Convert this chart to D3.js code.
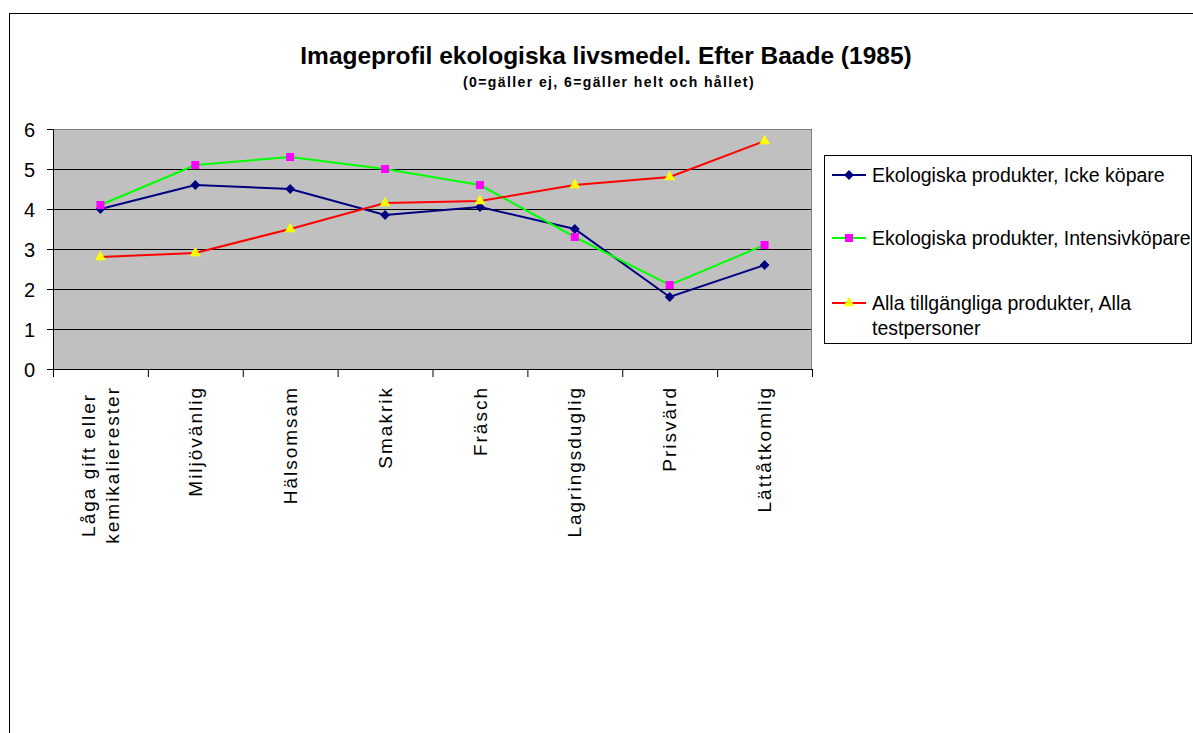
<!DOCTYPE html>
<html>
<head>
<meta charset="utf-8">
<script src="https://cdn.jsdelivr.net/npm/d3@7"></script>
<style>
  body { margin: 0; background: #fff; }
  text { font-family: "Liberation Sans", Arial, sans-serif; fill: #000; }
</style>
</head>
<body>
<script>
// chart data
var categories = ["Låga gift eller\nkemikalierester", "Miljövänlig", "Hälsomsam", "Smakrik",
  "Fräsch", "Lagringsduglig", "Prisvärd", "Lättåtkomlig"];
var ickeKopare = [4.0, 4.6, 4.5, 3.85, 4.05, 3.5, 1.8, 2.6];
var intensivKopare = [4.1, 5.1, 5.3, 5.0, 4.6, 3.3, 2.1, 3.1];
var allaTestpersoner = [2.8, 2.9, 3.5, 4.15, 4.2, 4.6, 4.8, 5.7];
var seriesNames = ["Ekologiska produkter, Icke köpare",
  "Ekologiska produkter, Intensivköpare",
  "Alla tillgängliga produkter, Alla testpersoner"];
var yTicks = [0, 1, 2, 3, 4, 5, 6];

var svgWidth = 1193;
var svgHeight = 733;

// plot area
var plot = { left: 53, top: 129, right: 812, bottom: 369 };
var plotWidth = plot.right - plot.left;
var plotHeight = plot.bottom - plot.top;

var svg = d3.select("body").append("svg")
  .attr("width", svgWidth)
  .attr("height", svgHeight);

// outer chart frame (runs past the right and bottom edge)
svg.append("rect")
  .attr("x", 9.5).attr("y", 13.5)
  .attr("width", 1300).attr("height", 900)
  .attr("fill", "#fff").attr("stroke", "#000");

// title
svg.append("text")
  .attr("x", 606).attr("y", 64)
  .attr("text-anchor", "middle")
  .style("font-size", "24.5px").style("font-weight", "bold")
  .text("Imageprofil ekologiska livsmedel. Efter Baade (1985)");

svg.append("text")
  .attr("x", 609).attr("y", 87)
  .attr("text-anchor", "middle")
  .style("font-size", "14px").style("font-weight", "bold")
  .style("letter-spacing", "1.4px")
  .text("(0=gäller ej, 6=gäller helt och hållet)");

var chartGroup = svg.append("g")
  .attr("transform", `translate(${plot.left}, ${plot.top})`);

var xBand = d3.scaleBand()
  .domain(categories)
  .range([0, plotWidth]);

var xEdges = d3.scaleLinear()
  .domain([0, categories.length])
  .range([0, plotWidth]);

var yScale = d3.scaleLinear()
  .domain([0, 6])
  .range([plotHeight, 0]);

// grey background
chartGroup.append("rect")
  .attr("width", plotWidth).attr("height", plotHeight)
  .attr("fill", "#c0c0c0");

// gridlines
chartGroup.append("g")
  .call(d3.axisLeft(yScale).tickValues(yTicks).tickSize(-plotWidth).tickFormat(""))
  .call(g => g.select(".domain").remove())
  .selectAll("line").attr("stroke", "#000");

// grey border top / right
chartGroup.append("path")
  .attr("d", `M0,0.5H${plotWidth - 0.5}V${plotHeight}`)
  .attr("fill", "none").attr("stroke", "#808080");

// left axis
var leftAxis = chartGroup.append("g")
  .call(d3.axisLeft(yScale).tickValues(yTicks).tickFormat(d3.format("d"))
    .tickSize(6).tickSizeOuter(0).tickPadding(12));
leftAxis.selectAll("path, line").attr("stroke", "#000");
leftAxis.selectAll("text")
  .style("font-size", "20px")
  .attr("dy", "0.36em");

// bottom axis, ticks between categories
var bottomAxis = chartGroup.append("g")
  .attr("transform", `translate(0, ${plotHeight})`)
  .call(d3.axisBottom(xEdges).ticks(categories.length).tickSize(8).tickSizeOuter(0).tickFormat(""));
bottomAxis.selectAll("path, line").attr("stroke", "#000");

// rotated category labels
var labelTop = plotHeight + 17;
chartGroup.selectAll(".xlabel")
  .data(categories)
  .enter()
  .append("text")
  .attr("class", "xlabel")
  .attr("text-anchor", "middle")
  .style("font-size", "19px")
  .style("letter-spacing", "2px")
  .each(function(d) {
    var t = d3.select(this);
    var lines = d.split("\n");
    lines.forEach(function(line, i) {
      t.append("tspan")
        .attr("x", 0)
        .attr("dy", i === 0 ? ((0.35 - (lines.length - 1) * 0.62) + "em") : "1.24em")
        .text(line);
    });
    var maxLen = 0;
    t.selectAll("tspan").each(function() {
      maxLen = Math.max(maxLen, this.getComputedTextLength());
    });
    var cx = xBand(d) + xBand.bandwidth() / 2;
    t.attr("transform", `translate(${cx}, ${labelTop + maxLen / 2}) rotate(-90)`);
  });

// series
var series = [
  { name: seriesNames[0], values: ickeKopare, color: "#000080", fill: "#000080", symbol: "diamond" },
  { name: seriesNames[1], values: intensivKopare, color: "#00ff00", fill: "#ff00ff", symbol: "square" },
  { name: seriesNames[2], values: allaTestpersoner, color: "#ff0000", fill: "#ffff00", symbol: "triangle" }
];

function marker(type) {
  if (type === "diamond") return d3.symbol().type(d3.symbolSquare).size(48)();
  if (type === "square") return d3.symbol().type(d3.symbolSquare).size(64)();
  return d3.symbol().type(d3.symbolTriangle).size(52)();
}
function markerRotate(type) {
  return type === "diamond" ? " rotate(45)" : "";
}

var line = d3.line()
  .x((d, i) => xBand(categories[i]) + xBand.bandwidth() / 2)
  .y(d => yScale(d));

series.forEach(function(s) {
  chartGroup.append("path")
    .datum(s.values)
    .attr("d", line)
    .attr("fill", "none")
    .attr("stroke", s.color)
    .attr("stroke-width", 2);
});

series.forEach(function(s) {
  chartGroup.selectAll(".m-" + s.symbol)
    .data(s.values)
    .enter()
    .append("path")
    .attr("class", "m-" + s.symbol)
    .attr("d", marker(s.symbol))
    .attr("fill", s.fill)
    .attr("transform", (d, i) => `translate(${xBand(categories[i]) + xBand.bandwidth() / 2}, ${yScale(d)})` + markerRotate(s.symbol));
});

// legend
var legend = svg.append("g");
legend.append("rect")
  .attr("x", 824.5).attr("y", 155.5)
  .attr("width", 367).attr("height", 188)
  .attr("fill", "#fff").attr("stroke", "#000");

var legendRows = [175, 238, 303];
var maxTextWidth = 330;

series.forEach(function(s, i) {
  var ly = legendRows[i];
  var row = legend.append("g").attr("transform", `translate(0, ${ly})`);
  row.append("line")
    .attr("x1", 832).attr("x2", 866)
    .attr("stroke", s.color).attr("stroke-width", 2);
  row.append("path")
    .attr("d", marker(s.symbol))
    .attr("fill", s.fill)
    .attr("transform", "translate(849, 0)" + markerRotate(s.symbol));

  var text = row.append("text")
    .attr("x", 872)
    .attr("dy", "0.35em")
    .style("font-size", "19.5px");
  // simple word wrap
  var words = s.name.split(" ");
  var current = [];
  var tspan = text.append("tspan").attr("x", 872);
  words.forEach(function(w) {
    current.push(w);
    tspan.text(current.join(" "));
    if (tspan.node().getComputedTextLength() > maxTextWidth && current.length > 1) {
      current.pop();
      tspan.text(current.join(" "));
      current = [w];
      tspan = text.append("tspan").attr("x", 872).attr("dy", "1.28em").text(w);
    }
  });
});
</script>
</body>
</html>
